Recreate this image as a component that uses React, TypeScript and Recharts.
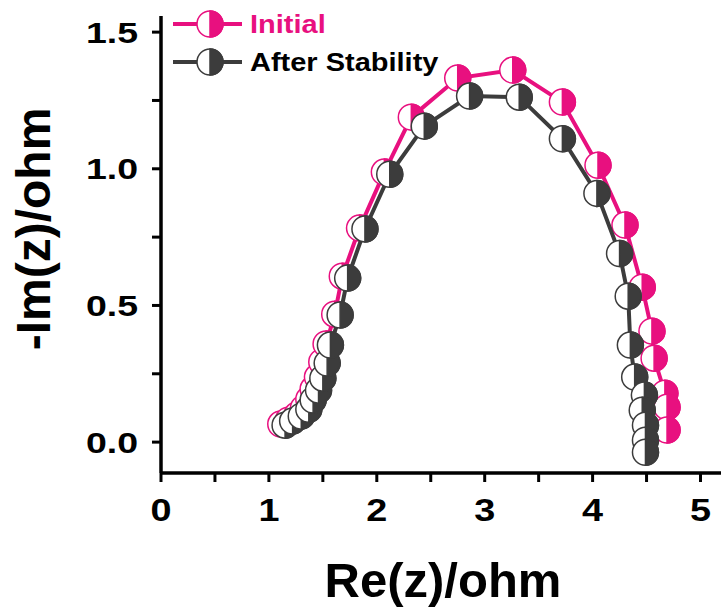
import React from "react";
import { ScatterChart, Scatter, XAxis, YAxis } from "recharts";

const PINK = "#e8107f";
const GRAY = "#3c3c3c";
const FONT = "'Liberation Sans', Arial, sans-serif";

// Initial
const initialRe = [1.11, 1.18, 1.26, 1.32, 1.37, 1.41, 1.45, 1.49, 1.53, 1.61, 1.68, 1.84, 2.07, 2.32, 2.75, 3.26, 3.72, 4.05, 4.30, 4.46, 4.55, 4.57, 4.67, 4.69, 4.69];
const initialIm = [0.066, 0.080, 0.099, 0.124, 0.157, 0.194, 0.238, 0.293, 0.359, 0.468, 0.607, 0.783, 0.988, 1.189, 1.332, 1.361, 1.244, 1.013, 0.794, 0.567, 0.406, 0.307, 0.179, 0.128, 0.044];

// After Stability
const afterRe = [1.15, 1.22, 1.30, 1.37, 1.41, 1.46, 1.50, 1.54, 1.57, 1.66, 1.73, 1.89, 2.12, 2.44, 2.86, 3.32, 3.72, 4.04, 4.25, 4.33, 4.35, 4.39, 4.48, 4.46, 4.49, 4.49, 4.49];
const afterIm = [0.062, 0.077, 0.095, 0.120, 0.154, 0.190, 0.234, 0.289, 0.355, 0.465, 0.600, 0.780, 0.980, 1.156, 1.266, 1.262, 1.110, 0.910, 0.690, 0.534, 0.355, 0.238, 0.172, 0.117, 0.062, 0.007, -0.037];

const xTicks = [0, 0.5, 1, 1.5, 2, 2.5, 3, 3.5, 4, 4.5, 5];
const yTicks = [0, 0.25, 0.5, 0.75, 1, 1.25, 1.5];

const initialData = initialRe.map((x, i) => ({ x, y: initialIm[i] }));
const afterData = afterRe.map((x, i) => ({ x, y: afterIm[i] }));

function HalfCircle({ cx, cy, color, r = 13 }: { cx: number; cy: number; color: string; r?: number }) {
  return (
    <g>
      <circle cx={cx} cy={cy} r={r} fill="#fff" stroke={color} strokeWidth={1.5} />
      <path d={`M${cx},${cy - r} A${r},${r} 0 0 1 ${cx},${cy + r} Z`} fill={color} stroke={color} strokeWidth={1.5} />
    </g>
  );
}

const makeShape = (color: string) => (props: any) => <HalfCircle cx={props.cx} cy={props.cy} color={color} />;

function XTick({ x, payload }: any) {
  if (payload.value % 1 !== 0) return <g />;
  return (
    <text transform={`translate(${x},510) scale(1.22,1)`} textAnchor="middle" dominantBaseline="central"
      fontSize={31} fontWeight="bold" fontFamily={FONT} fill="#000">
      {payload.value}
    </text>
  );
}

function YTick({ x, y, payload }: any) {
  if (payload.value % 0.5 !== 0) return <g />;
  return (
    <text transform={`translate(${x},${y}) scale(1.25,1)`} textAnchor="end" dominantBaseline="central"
      fontSize={30} fontWeight="bold" fontFamily={FONT} fill="#000">
      {payload.value.toFixed(1)}
    </text>
  );
}

const legendItems = [
  { name: "Initial", color: PINK, textColor: PINK, y: 24 },
  { name: "After Stability", color: GRAY, textColor: "#000", y: 62 },
];

export default function App() {
  return (
    <div style={{ position: "absolute", left: 0, top: 0, width: 721, height: 608, background: "#fff" }}>
      <ScatterChart width={721} height={608} margin={{ top: 16, right: 0, bottom: 0, left: 0 }}>
        <XAxis type="number" dataKey="x" domain={[0, 5.19]} ticks={xTicks} allowDataOverflow height={135}
          axisLine={{ stroke: "#000", strokeWidth: 3.5 }} tickLine={{ stroke: "#000", strokeWidth: 3 }}
          tickSize={9} tick={XTick} />
        <YAxis type="number" dataKey="y" domain={[-0.113, 1.559]} ticks={yTicks} allowDataOverflow width={161}
          axisLine={{ stroke: "#000", strokeWidth: 3.5 }} tickLine={{ stroke: "#000", strokeWidth: 3 }}
          tickSize={9} tickMargin={14} tick={YTick} />
        <Scatter data={initialData} line={{ stroke: PINK, strokeWidth: 4 }} lineType="joint"
          shape={makeShape(PINK)} isAnimationActive={false} />
        <Scatter data={afterData} line={{ stroke: GRAY, strokeWidth: 4 }} lineType="joint"
          shape={makeShape(GRAY)} isAnimationActive={false} />
        <text x={443} y={597} textAnchor="middle" fontSize={49} fontWeight="bold" fontFamily={FONT} fill="#000">
          Re(z)/ohm
        </text>
        <text x={50} y={229} transform="rotate(-90, 50, 229)" textAnchor="middle" fontSize={48}
          fontWeight="bold" fontFamily={FONT} fill="#000">
          -Im(z)/ohm
        </text>
      </ScatterChart>
      <svg width={300} height={85} style={{ position: "absolute", left: 165, top: 0 }}>
        {legendItems.map((it) => (
          <g key={it.name}>
            <line x1={8} x2={77} y1={it.y} y2={it.y} stroke={it.color} strokeWidth={4} />
            <HalfCircle cx={45} cy={it.y} color={it.color} />
            <text transform={`translate(85,${it.y + 9}) scale(1.16,1)`} fontSize={25} fontWeight="bold"
              fontFamily={FONT} fill={it.textColor}>
              {it.name}
            </text>
          </g>
        ))}
      </svg>
    </div>
  );
}
